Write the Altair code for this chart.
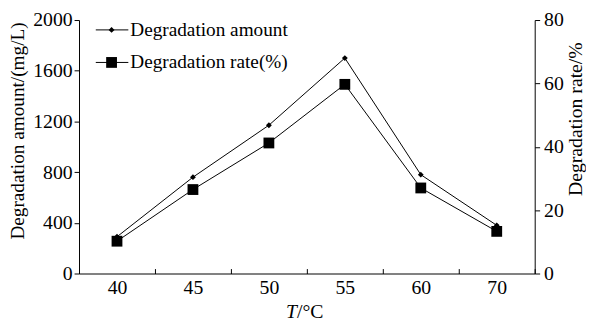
import altair as alt
import pandas as pd

temps = ["40", "45", "50", "55", "60", "70"]
amount = [290, 760, 1170, 1700, 780, 380]
rate = [10.2, 26.5, 41.2, 59.7, 27.0, 13.3]

df = pd.DataFrame({"T": temps, "amount": amount, "rate": rate})

FONT = "Liberation Serif, Times New Roman, Times, serif"
W, H = 462, 257

xscale = alt.Scale(type="band", paddingInner=0, paddingOuter=0)
xenc = alt.X("T:O", sort=temps, scale=xscale,
             axis=alt.Axis(title=None, labelAngle=0, ticks=True, tickBand="extent",
                           tickSize=alt.ExprRef(expr="-5"), labelPadding=9, orient="bottom"))

base = alt.Chart(df)

amt_line = base.mark_line(color="black", strokeWidth=1).encode(
    x=xenc,
    y=alt.Y("amount:Q", scale=alt.Scale(domain=[0, 2000]),
            axis=alt.Axis(title="Degradation amount/(mg/L)", values=[0, 400, 800, 1200, 1600, 2000],
                          format="d", tickSize=5, labelPadding=2, orient="left",
                          titleX=-62, titleY=112, titleAngle=270, titleBaseline="middle",
                          titleAlign="center", titleFontSize=19.5)),
)
amt_pts = base.mark_point(shape="diamond", filled=True, color="black", size=35, opacity=1).encode(
    x=xenc, y=alt.Y("amount:Q", scale=alt.Scale(domain=[0, 2000]))
)
left = alt.layer(amt_line, amt_pts)

rate_line = base.mark_line(color="black", strokeWidth=1).encode(
    x=xenc,
    y=alt.Y("rate:Q", scale=alt.Scale(domain=[0, 80]),
            axis=alt.Axis(title="Degradation rate/%", values=[0, 20, 40, 60, 80],
                          format="d", tickSize=5, labelPadding=4, orient="right",
                          titleX=41, titleY=100, titleAngle=270, titleBaseline="middle",
                          titleAlign="center", titleFontSize=20)),
)
rate_pts = base.mark_point(shape="square", filled=True, color="black", size=120, opacity=1).encode(
    x=xenc, y=alt.Y("rate:Q", scale=alt.Scale(domain=[0, 80]))
)
right = alt.layer(rate_line, rate_pts)

# legend
leg_names = ["Degradation amount", "Degradation rate(%)"]
leg_shapes = ["diamond", "square"]
leg_sizes = [35, 120]
leg_y = [10, 43]
legend_layers = []
for name, shp, sz, yy in zip(leg_names, leg_shapes, leg_sizes, leg_y):
    one = pd.DataFrame({"name": [name]})
    legend_layers.append(alt.Chart(one).mark_rule(color="black", strokeWidth=1).encode(
        x=alt.value(17), x2=alt.value(50), y=alt.value(yy)))
    legend_layers.append(alt.Chart(one).mark_point(shape=shp, filled=True, color="black", size=sz, opacity=1).encode(
        x=alt.value(33), y=alt.value(yy)))
    legend_layers.append(alt.Chart(one).mark_text(align="left", baseline="middle", font=FONT, fontSize=19.5, color="black").encode(
        x=alt.value(52), y=alt.value(yy), text="name:N"))

xt = pd.DataFrame({"a": ["T"], "b": ["/°C"]})
xtitle1 = alt.Chart(xt).mark_text(align="right", baseline="middle", font=FONT, fontSize=20, fontStyle="italic", color="black").encode(
    x=alt.value(221), y=alt.value(H + 39), text="a:N")
xtitle2 = alt.Chart(xt).mark_text(align="left", baseline="middle", font=FONT, fontSize=20, color="black").encode(
    x=alt.value(221), y=alt.value(H + 39), text="b:N")

chart = alt.layer(left, right, *legend_layers, xtitle1, xtitle2).resolve_scale(
    y="independent").properties(
    width=W, height=H, autosize=alt.AutoSizeParams(type="none"),
    padding={"left": 72, "top": 10, "right": 52, "bottom": 50}
).configure_view(stroke=None).configure_axis(
    labelFont=FONT, titleFont=FONT, labelFontSize=20,
    labelColor="black", titleColor="black", domainColor="black", tickColor="black",
    grid=False, titleFontWeight="normal"
)

chart.save("out.html", embed_options={"renderer": "svg", "actions": False})
